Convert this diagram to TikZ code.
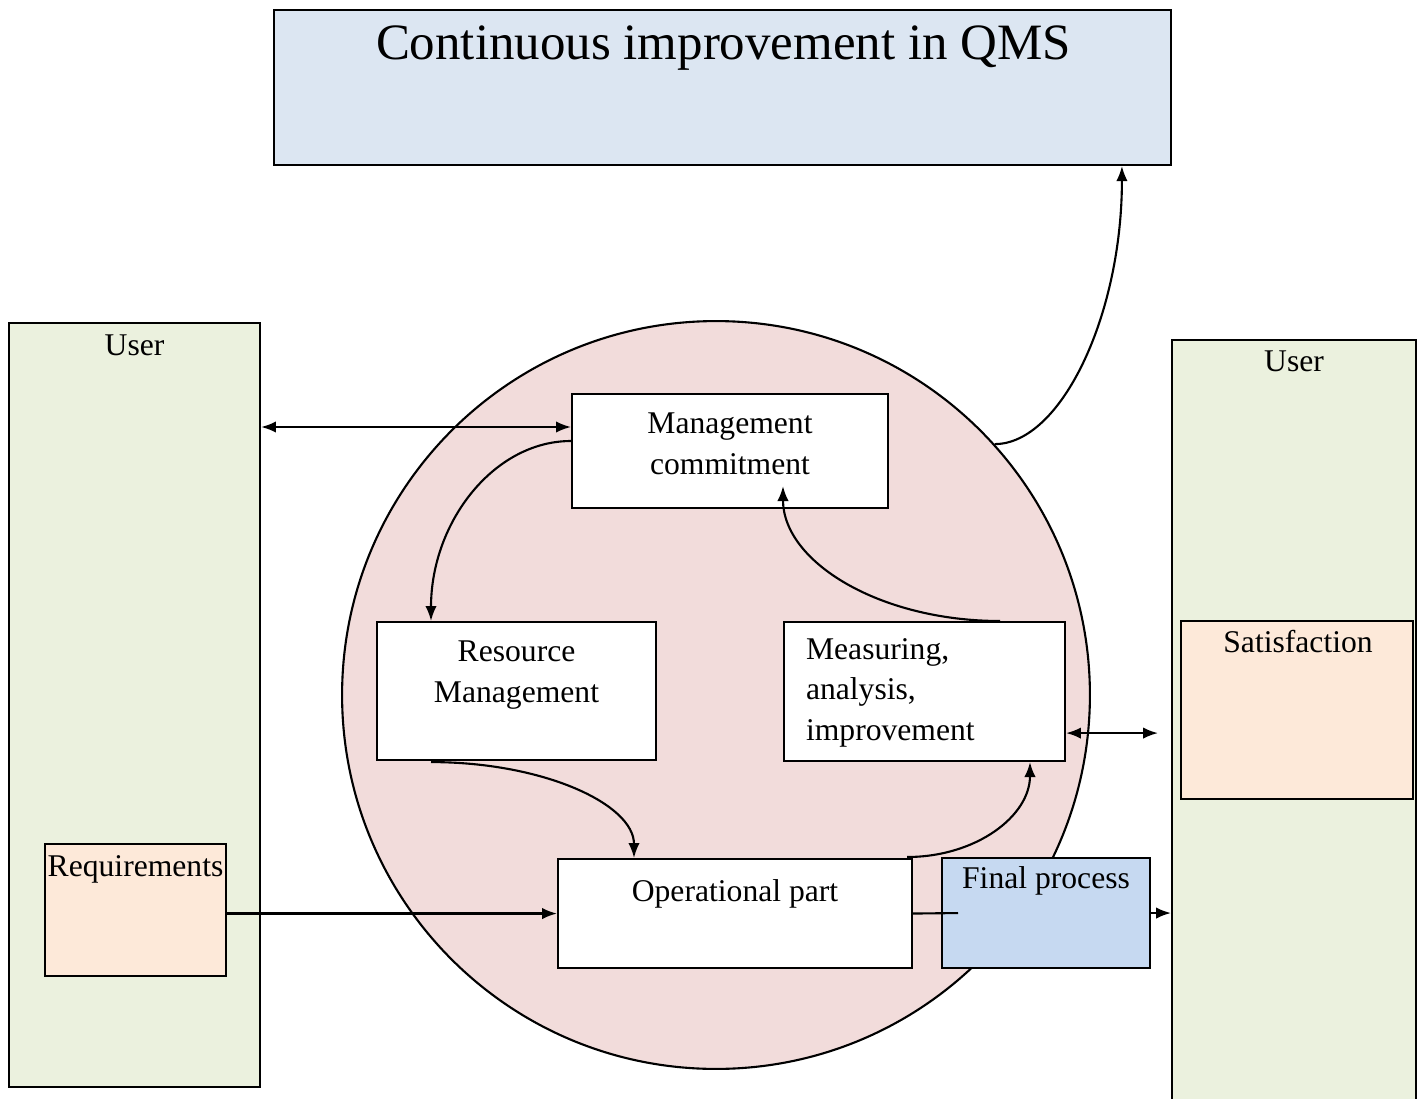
\documentclass[tikz,border=0pt]{standalone}
\usepackage{fontspec}
\setmainfont{Liberation Serif}
\usetikzlibrary{arrows.meta,calc}
\definecolor{qmsblue}{HTML}{DCE6F2}
\definecolor{usergreen}{HTML}{EBF1DE}
\definecolor{reqpeach}{HTML}{FDE9D9}
\definecolor{ringpink}{HTML}{F2DCDB}
\definecolor{finblue}{HTML}{C6D9F1}
\tikzset{every scope/.style={>={Latex[length=8.5pt,width=6.5pt]},line width=1.2pt},
         box/.style={draw,rectangle,inner sep=0pt,anchor=north west},
         lbl/.style={inner sep=0pt,font=\fontsize{18}{22.8}\selectfont},
         ring/.style={draw,circle,inner sep=0pt,fill=ringpink}}

\begin{document}
\begin{tikzpicture}[x=0.02cm,y=-0.02cm]
  \useasboundingbox (0,0) rectangle (1421,1099);
  \begin{scope}
    \node[box,fill=qmsblue,minimum width=17.94cm,minimum height=3.10cm] (title) at (273,9) {};
    \node[lbl,anchor=base,font=\fontsize{29}{35}\selectfont] (title-t) at ($(title.north)+(1,50)$) {Continuous improvement in QMS};

    \node[box,fill=usergreen,minimum width=5.02cm,minimum height=15.28cm] (userL) at (8,322) {};
    \node[lbl,anchor=base] (userL-t) at ($(userL.north)+(0,33)$) {User};
    \node[box,fill=usergreen,minimum width=4.88cm,minimum height=15.40cm] (userR) at (1171,339) {};
    \node[lbl,anchor=base] (userR-t) at ($(userR.north)+(0,32)$) {User};

    \node[box,fill=reqpeach,minimum width=3.62cm,minimum height=2.64cm] (req) at (44,843) {};
    \node[lbl,anchor=base] (req-t) at ($(req.north)+(0,33)$) {Requirements};
    \node[box,fill=reqpeach,minimum width=4.64cm,minimum height=3.56cm] (sat) at (1180,620) {};
    \node[lbl,anchor=base] (sat-t) at ($(sat.north)+(1,32)$) {Satisfaction};

    \node[ring,minimum size=14.96cm] (ring) at (716,695) {};

    \node[box,fill=white,minimum width=6.32cm,minimum height=2.28cm] (mgmt) at (571,393) {};
    \node[lbl,anchor=base,align=center] (mgmt-t) at ($(mgmt.north)+(0,81)$) {Management\\commitment};
    \node[box,fill=white,minimum width=5.58cm,minimum height=2.76cm] (res) at (376,621) {};
    \node[lbl,anchor=base,align=center] (res-t) at ($(res.north)+(0,81)$) {Resource\\Management};
    \node[box,fill=white,minimum width=5.62cm,minimum height=2.78cm] (meas) at (783,621) {};
    \node[lbl,anchor=base west,align=left] (meas-t) at ($(meas.north west)+(22,119)$) {Measuring,\\analysis,\\improvement};
    \node[box,fill=white,minimum width=7.08cm,minimum height=2.18cm] (op) at (557,858) {};
    \node[lbl,anchor=base] (op-t) at ($(op.north)+(0,43)$) {Operational part};
    \node[box,fill=finblue,minimum width=4.16cm,minimum height=2.20cm] (fin) at (941,857) {};
    \node[lbl,anchor=base] (fin-t) at ($(fin.north)+(0,31)$) {Final process};

    \coordinate (m1) at ($(mgmt.north west)+(0,34)$);
    \draw[<->] (m1 -| userL.east) -- (m1);
    \draw[->] ($(mgmt.north west)+(0,48)$) .. controls +(-77,0) and +(0,-99) .. ($(res.north west)+(55,0)$);
    \draw[->] ($(res.south west)+(55,1)$) .. controls +(112,0) and +(0,-54) .. ($(op.north west)+(77,0)$);
    \draw[->] ($(op.north east)+(-6,-1)$) .. controls +(69,0) and +(0,54) .. ($(meas.south west)+(247,0)$);
    \draw[->] ($(meas.north west)+(217,0)$) .. controls +(-120,0) and +(0,76) .. ($(mgmt.south west)+(212,-23)$);
    \draw[->] (ring.42) .. controls +(66,0) and +(0,150) .. ($(title.south east)+(-50,0)$);

    \coordinate (satIn) at ($(meas.south east -| userR.west)+(-13,-29)$);
    \draw[<->] ($(meas.south east)+(0,-29)$) -- (satIn);
    \draw[->] (req.east |- op.west) -- (op.west);
    \draw (op.east) -- ($(fin.west)+(17,0)$);
    \draw[->] (fin.east) -- (fin.east -| userR.west);
  \end{scope}
\end{tikzpicture}
\end{document}
